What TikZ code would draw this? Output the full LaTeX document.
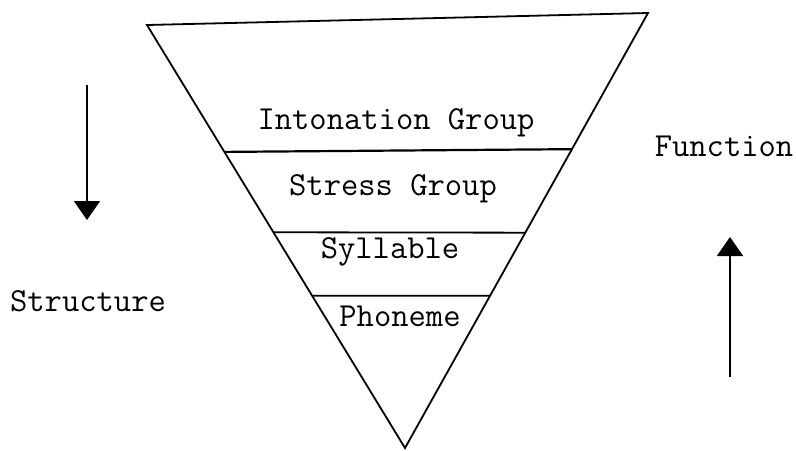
\documentclass[tikz,border=0pt]{standalone}
\usetikzlibrary{arrows.meta, calc}

\begin{document}
\begin{tikzpicture}[x=0.5pt, y=-0.5pt,
    every node/.style={font=\ttfamily\fontsize{16.8}{19}\selectfont},
    edge/.style={line width=0.9pt},
    flow/.style={line width=0.9pt, -{Triangle[width=13pt, length=9.5pt]}}]
    % Inverted triangle with four layers; two labelled arrows beside it.
    % Coordinates in pixels of an 796 x 450 picture, y downwards
    %   triangle corners (147,25), (648,13), apex (405,448)
    %   layer lines cut the sides at about 30%, 49% and 64%
    \useasboundingbox (0,0) rectangle (796,450);
    \coordinate (topleft) at (147,25);
    \coordinate (topright) at (648,13);
    \coordinate (apex) at (405,448);
    \draw[edge] (topleft) -- (topright) -- (apex) -- cycle;

    \coordinate (l1) at ($(topleft)!0.30!(apex)$);
    \coordinate (r1) at ($(topright)!0.313!(apex)$);
    \coordinate (l2) at ($(topleft)!0.49!(apex)$);
    \coordinate (r2) at ($(topright)!0.505!(apex)$);
    \coordinate (l3) at ($(topleft)!0.64!(apex)$);
    \coordinate (r3) at ($(topright)!0.65!(apex)$);
    \draw[edge, line width=1.1pt] (l1) -- (r1);
    \draw[edge] (l2) -- (r2);
    \draw[edge] (l3) -- (r3);

    \node (intonation) at (396,123) {Intonation Group};
    \node (stress) at (393,189) {Stress Group};
    \node (syllable) at (390,252) {Syllable};
    \node (phoneme) at (400,316) {Phoneme};

    % structure goes down, function goes up
    \coordinate (structtop) at (87,85);
    \coordinate (structtip) at (87,220);
    \draw[flow] (structtop) -- (structtip);
    \node (structure) at (88,301) {Structure};

    \coordinate (functail) at (730,377);
    \coordinate (functip) at (730,237);
    \draw[flow] (functail) -- (functip);
    \node (function) at (724,146) {Function};
\end{tikzpicture}
\end{document}
